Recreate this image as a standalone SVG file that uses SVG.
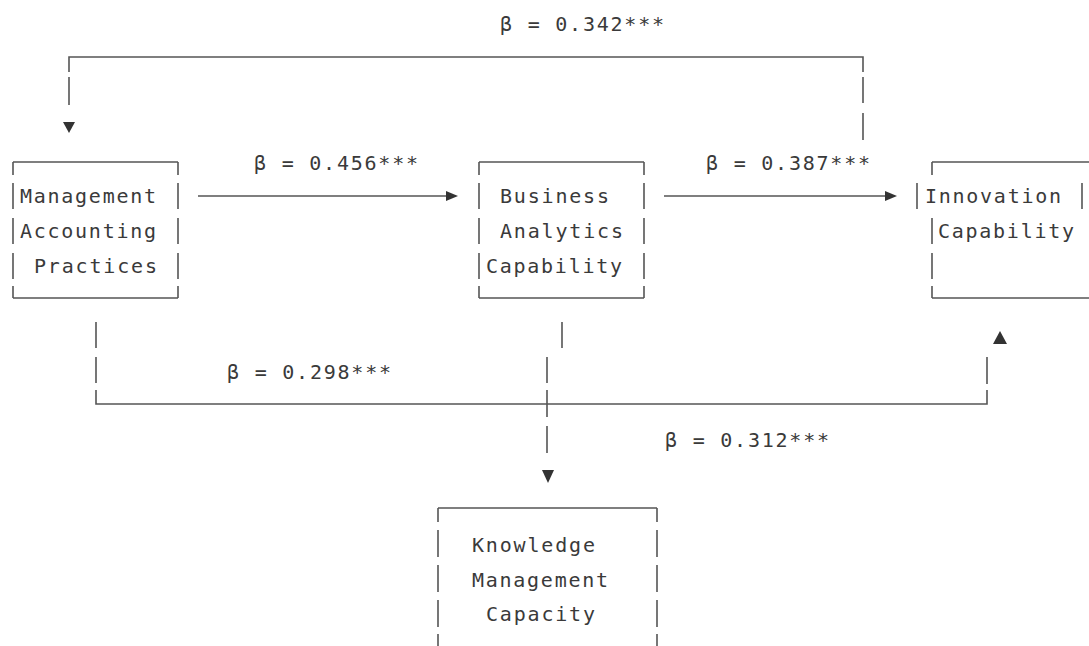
<svg xmlns="http://www.w3.org/2000/svg" width="1089" height="646" viewBox="0 0 1089 646">
<style>
.ln{fill:none;stroke:#555;stroke-width:1.6}
.ah{fill:#333}
text{font-family:"DejaVu Sans Mono","Liberation Mono",monospace;font-size:20px;fill:#3a3a3a}
</style>
<rect width="1089" height="646" fill="#fff"/>
<g id="map">
<path class="ln" d="M13,162H178M13,298H178M13,162V175M13,183V209M13,218V244M13,253V279M13,286V298M178,162V175M178,183V209M178,218V244M178,253V279M178,286V298"/>
<text x="20" y="203" textLength="136" lengthAdjust="spacing">Management</text>
<text x="20" y="238" textLength="136" lengthAdjust="spacing">Accounting</text>
<text x="34" y="273" textLength="123" lengthAdjust="spacing">Practices</text>
</g>
<g id="bac">
<path class="ln" d="M479,162H644M479,298H644M479,162V175M479,183V209M479,218V244M479,253V279M479,286V298M644,162V175M644,183V209M644,218V244M644,253V279M644,286V298"/>
<text x="500" y="203" textLength="109" lengthAdjust="spacing">Business</text>
<text x="500" y="238" textLength="123" lengthAdjust="spacing">Analytics</text>
<text x="486" y="273" textLength="136" lengthAdjust="spacing">Capability</text>
</g>
<g id="ic">
<path class="ln" d="M932,162H1089M932,298H1089M932,162V175M917,183V209M1082,183V209M932,218V244M932,253V279M932,286V298"/>
<text x="925" y="203" textLength="136" lengthAdjust="spacing">Innovation</text>
<text x="938" y="238" textLength="136" lengthAdjust="spacing">Capability</text>
</g>
<g id="kmc">
<path class="ln" d="M438,508H657M438,508V522M438,530V557M438,565V592M438,600V627M438,634V646M657,508V522M657,530V557M657,565V592M657,600V627M657,634V646"/>
<text x="472" y="552" textLength="123" lengthAdjust="spacing">Knowledge</text>
<text x="472" y="587" textLength="136" lengthAdjust="spacing">Management</text>
<text x="486" y="621" textLength="109" lengthAdjust="spacing">Capacity</text>
</g>
<g id="connectors">
<path class="ln" d="M198,196H450"/>
<polygon class="ah" points="446,191 458,196 446,201"/>
<path class="ln" d="M664,196H889"/>
<polygon class="ah" points="885,191 897,196 885,201"/>
<path class="ln" d="M863,140V113M863,103V77M863,72V57H69V72M69,77V105"/>
<polygon class="ah" points="63,122 75,122 69,133"/>
<path class="ln" d="M96,322V348M96,357V383M96,390V404H987V390M987,384V357"/>
<polygon class="ah" points="993,344 1007,344 1000,331"/>
<path class="ln" d="M562,322V348M547,357V383M547,390V417M547,426V453"/>
<polygon class="ah" points="542,470 554,470 548,483"/>
<text x="500" y="31" textLength="164" lengthAdjust="spacing">β = 0.342***</text>
<text x="254" y="170" textLength="164" lengthAdjust="spacing">β = 0.456***</text>
<text x="706" y="170" textLength="164" lengthAdjust="spacing">β = 0.387***</text>
<text x="227" y="379" textLength="164" lengthAdjust="spacing">β = 0.298***</text>
<text x="665" y="447" textLength="164" lengthAdjust="spacing">β = 0.312***</text>
</g>
</svg>
